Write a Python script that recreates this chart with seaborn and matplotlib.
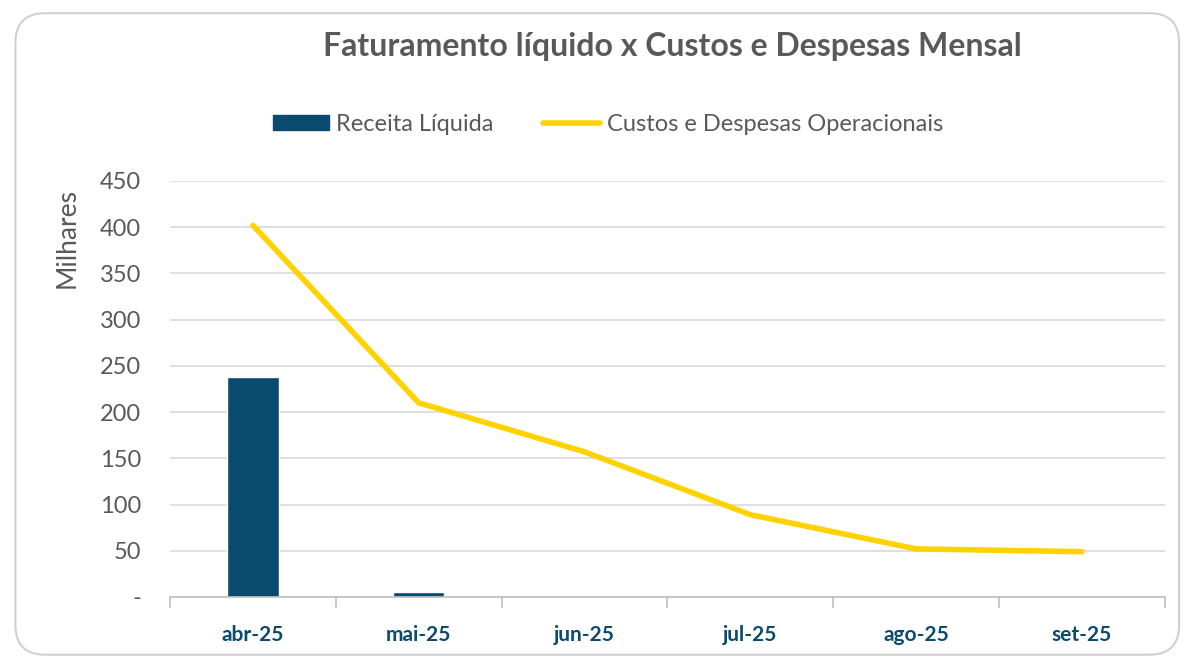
import numpy as np
import pandas as pd
import matplotlib.pyplot as plt
import seaborn as sns
from matplotlib.patches import FancyBboxPatch
from matplotlib.lines import Line2D
from matplotlib.patches import Patch

# Data (thousands of R$)
meses = ["abr-25", "mai-25", "jun-25", "jul-25", "ago-25", "set-25"]
receita = [238, 5, 0, 0, 0, 0]
custos = [402, 210, 157, 89, 52, 49]
yticks = [0, 50, 100, 150, 200, 250, 300, 350, 400, 450]
ytick_labels = ["-", "50", "100", "150", "200", "250", "300", "350", "400", "450"]

azul = "#0B4A6F"
amarelo = "#FFD200"
cinza = "#595959"

sns.set_theme(style="white")
plt.rcParams["font.family"] = ["Lato", "DejaVu Sans"]

df = pd.DataFrame({"mes": meses, "receita": receita})

fig = plt.figure(figsize=(11.85, 6.6), dpi=100)
ax = fig.add_axes([0.1435, 0.0955, 0.8395, 0.6303])

# rounded border around the chart
fig.patches.append(FancyBboxPatch((0.013, 0.008), 0.982, 0.972, boxstyle="round,pad=0,rounding_size=0.025",
                                  transform=fig.transFigure, fill=False, edgecolor="#D0D0D0", linewidth=1.5,
                                  mutation_aspect=1185 / 660))

sns.barplot(data=df, x="mes", y="receita", color=azul, width=0.31, saturation=1, ax=ax)
sns.lineplot(x=np.arange(len(meses)), y=custos, color=amarelo, linewidth=4, ax=ax)

ax.set_xlim(-0.5, len(meses) - 0.5)
ax.set_ylim(0, 450)
ax.set_yticks(yticks)
ax.set_yticklabels(ytick_labels, color=cinza, fontsize=17)
ax.yaxis.grid(True, color="#D9D9D9", linewidth=1.2)
ax.set_axisbelow(True)
ax.tick_params(axis="y", length=0, pad=21)

ax.set_xticks(range(len(meses)))
ax.set_xticklabels(meses, color=azul, fontsize=15, fontweight="bold")
ax.set_xticks(np.arange(-0.5, len(meses), 1), minor=True)
ax.tick_params(axis="x", which="major", length=0, pad=20)
ax.tick_params(axis="x", which="minor", length=8, color="#BFBFBF", width=1.2, bottom=True)
ax.set_xlabel("")
ax.set_ylabel("")

for s in ["top", "right", "left"]:
    ax.spines[s].set_visible(False)
ax.spines["bottom"].set_color("#BFBFBF")
ax.spines["bottom"].set_linewidth(1.2)

fig.text(0.057, 0.639, "Milhares", rotation=90, color=cinza, fontsize=19, ha="center", va="center")
fig.text(0.567, 0.93, "Faturamento líquido x Custos e Despesas Mensal", color=cinza,
         fontsize=23, fontweight="bold", ha="center", va="center")

handles = [Patch(facecolor=azul, edgecolor=azul),
           Line2D([0], [0], color=amarelo, linewidth=4)]
fig.legend(handles, ["Receita Líquida", "Custos e Despesas Operacionais"], loc="center",
           bbox_to_anchor=(0.513, 0.812), ncol=2, frameon=False, fontsize=17, labelcolor=cinza,
           handlelength=2.4, handleheight=0.6, handletextpad=0.3, columnspacing=2.1)

fig.savefig("out.png", dpi=100)
